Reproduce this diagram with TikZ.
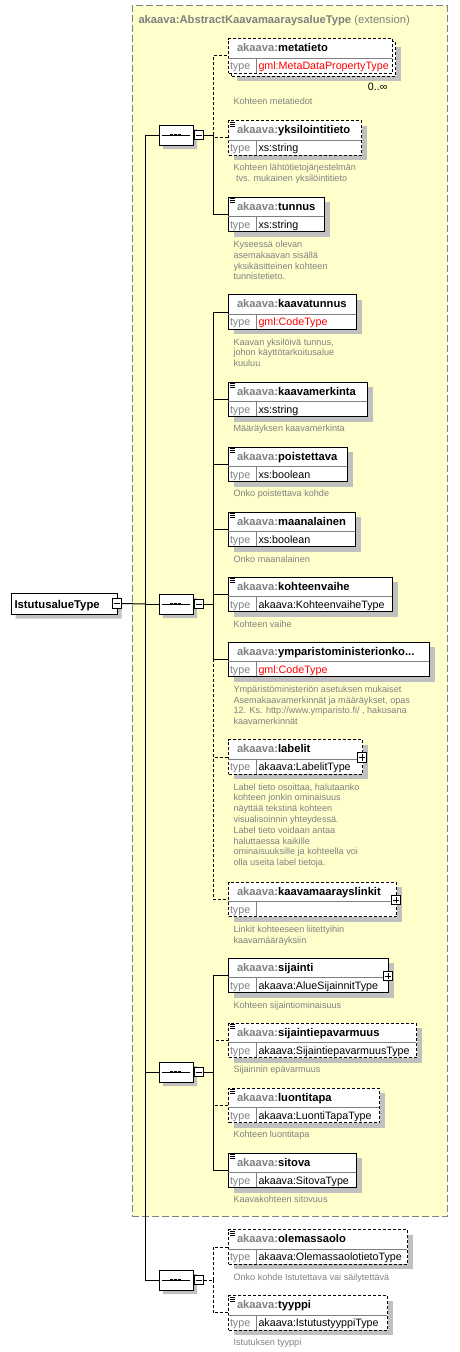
\documentclass[tikz,border=0pt]{standalone}
\usepackage{fontspec}
\setmainfont{Liberation Sans}
\usetikzlibrary{shapes.misc,shadows}

\definecolor{extfill}{HTML}{FFFFCC}
\definecolor{extline}{HTML}{808080}
\definecolor{shade}{HTML}{C0C0C0}
\definecolor{nsgray}{HTML}{808080}
\definecolor{docgray}{HTML}{808080}
\definecolor{gmlred}{HTML}{FF0000}

\tikzset{
  elframe/.style={draw,fill=white,inner sep=0pt,minimum height=34.5pt},
  elbox/.style={elframe,drop shadow={shadow xshift=5pt,shadow yshift=-5pt,fill=shade,opacity=1}},
  req/.style={elbox},
  opt/.style={elbox,dash pattern=on 3pt off 2pt},
  optmany/.style={elframe,dash pattern=on 3pt off 2pt},
  optline/.style={dash pattern=on 3pt off 2pt},
  rowline/.style={draw=nsgray,line width=0.8pt},
  ename/.style={anchor=base west,inner sep=0pt,font=\fontsize{11.2}{13}\selectfont\bfseries},
  etype/.style={anchor=base west,inner sep=0pt,font=\fontsize{10.7}{12}\selectfont},
  edoc/.style={anchor=base west,inner sep=0pt,text=docgray,font=\fontsize{9.1}{11}\selectfont},
  toggle/.style={draw,fill=white,line width=0.8pt,minimum size=9.5pt,inner sep=0pt},
  seqbox/.style={chamfered rectangle,chamfered rectangle xsep=5pt,draw,fill=white,
    minimum width=34pt,minimum height=20pt,inner sep=0pt,
    drop shadow={shadow xshift=4pt,shadow yshift=-4pt,fill=shade,opacity=1}},
  rootbox/.style={chamfered rectangle,chamfered rectangle xsep=4pt,
    chamfered rectangle corners={north west,south west},draw,fill=white,
    minimum width=106pt,minimum height=21pt,inner sep=0pt,
    drop shadow={shadow xshift=4pt,shadow yshift=-4pt,fill=shade,opacity=1}},
  extbox/.style={draw=extline,fill=extfill,line width=1.2pt,dash pattern=on 7pt off 3pt,inner sep=0pt}
}

% element box: id, top, right edge, local name, type, style
\newcommand{\elem}[6]{%
  \node[#6,minimum width=#3-228,anchor=north west] (#1) at (228,#2) {};
  \draw[rowline] (228,#2+20) -- (#3,#2+20) (256,#2+20) -- (256,#2+34.5);
  \node[ename] (#1-name) at (236.5,#2+13.5) {\textcolor{nsgray}{akaava:}#4};
  \node[etype,text=nsgray] (#1-tl) at (229.5,#2+31.5) {type};
  \node[etype] (#1-ty) at (258,#2+31.5) {#5};
}
\newcommand{\docmark}[1]{%
  \foreach \k in {2,4,6}
    \draw[line width=0.8pt] (229.5,#1+\k) -- (234.5,#1+\k);
}
\newcommand{\edesc}[3]{%
  \foreach \ln [count=\i from 0] in {#3}
    \node[edoc] (#1-doc\i) at (233,#2+10.8*\i) {\ln};
}
\newcommand{\minusbox}[3]{%
  \node[toggle] (#1) at (#2,#3) {};
  \draw[line width=0.8pt] ([xshift=2pt]#1.west) -- ([xshift=-2pt]#1.east);
}
\newcommand{\plusbox}[3]{%
  \minusbox{#1}{#2}{#3}
  \draw[line width=0.8pt] ([yshift=-2pt]#1.north) -- ([yshift=2pt]#1.south);
}
\newcommand{\seqnode}[2]{%
  \node[seqbox] (#1) at (176,#2) {};
  \draw (162,#2) -- (190,#2);
  \foreach \dx in {171.5,175.5,179.5}
    \fill (\dx-1.3,#2-1.3) rectangle (\dx+1.3,#2+1.3);
  \minusbox{#1-m}{199}{#2}
}

\begin{document}
\begin{tikzpicture}[x=1pt,y=-1pt,line width=1pt]
  \useasboundingbox (0,0) rectangle (460,1352);

  % extension frame
  \node[extbox,minimum width=315pt,minimum height=1211pt,anchor=north west] (ext) at (131.5,5) {};
  \node[anchor=base west,inner sep=0pt,text=nsgray,font=\fontsize{11.2}{13}\selectfont] (ext-title)
    at (138,23) {\textbf{akaava:AbstractKaavamaaraysalueType} (extension)};

  % root
  \node[rootbox,anchor=west] (root) at (11,604) {};
  \node[anchor=base west,inner sep=0pt,font=\fontsize{11.3}{13}\selectfont\bfseries] (root-name)
    at (14,608) {IstutusalueType};
  \minusbox{root-m}{117}{603.5}

  % sequences
  \seqnode{seqA}{135}
  \seqnode{seqB}{604}
  \seqnode{seqC}{1072}
  \seqnode{seqD}{1280}

  % elements
  \node[opt,minimum width=164,anchor=north west] (meta-back) at (231,41) {};
  \elem{meta}{38}{392}{metatieto}{\textcolor{gmlred}{gml:MetaDataPropertyType}}{optmany}
  \node[etype,anchor=base east] (meta-occ) at (388,90.8) {0..∞};
  \elem{ident}{120}{361}{yksilointitieto}{xs:string}{opt}
  \elem{tunnus}{196.7}{324}{tunnus}{xs:string}{req}
  \elem{kaavatunnus}{294.3}{356}{kaavatunnus}{\textcolor{gmlred}{gml:CodeType}}{req}
  \elem{merkinta}{381.7}{367}{kaavamerkinta}{xs:string}{req}
  \elem{poist}{446.7}{347}{poistettava}{xs:boolean}{req}
  \elem{maanal}{511.7}{355}{maanalainen}{xs:boolean}{req}
  \elem{vaihe}{576.7}{392}{kohteenvaihe}{akaava:KohteenvaiheType}{req}
  \elem{ymkoodi}{641.7}{429}{ymparistoministerionko...}{\textcolor{gmlred}{gml:CodeType}}{req}
  \elem{labelit}{739.3}{362}{labelit}{akaava:LabelitType}{opt}
  \elem{linkit}{881.7}{396}{kaavamaarayslinkit}{}{opt}
  \elem{sijainti}{957.7}{388}{sijainti}{akaava:AlueSijainnitType}{req}
  \elem{epavarm}{1022.7}{416}{sijaintiepavarmuus}{akaava:SijaintiepavarmuusType}{opt}
  \elem{luonti}{1087.7}{379}{luontitapa}{akaava:LuontiTapaType}{opt}
  \elem{sitova}{1152.7}{356}{sitova}{akaava:SitovaType}{req}
  \elem{olemassa}{1229.3}{407}{olemassaolo}{akaava:OlemassaolotietoType}{opt}
  \elem{tyyppi}{1295}{387}{tyyppi}{akaava:IstutustyyppiType}{opt}

  \foreach \tp in {120,196.7,381.7,446.7,511.7,576.7,1022.7,1087.7,1152.7,1229.3,1295}
    {\docmark{\tp}}
  \plusbox{labelit-p}{362}{757.6}
  \plusbox{linkit-p}{396}{900}
  \plusbox{sijainti-p}{388}{976}

  % annotations
  \edesc{meta}{104.3}{{Kohteen metatiedot}}
  \edesc{ident}{170.7}{{Kohteen lähtötietojärjestelmän},{\ tvs. mukainen yksilöintitieto}}
  \edesc{tunnus}{247.4}{{Kyseessä olevan},{asemakaavan sisällä},{yksikäsitteinen kohteen},{tunnistetieto.}}
  \edesc{kaavatunnus}{345}{{Kaavan yksilöivä tunnus,},{johon käyttötarkoitusalue},{kuuluu}}
  \edesc{merkinta}{431.8}{{Määräyksen kaavamerkinta}}
  \edesc{poist}{496.6}{{Onko poistettava kohde}}
  \edesc{maanal}{562.3}{{Onko maanalainen}}
  \edesc{vaihe}{627.3}{{Kohteen vaihe}}
  \edesc{ymkoodi}{692.3}{{Ympäristöministeriön asetuksen mukaiset},{Asemakaavamerkinnät ja määräykset, opas},{12. Ks. http://www.ymparisto.fi/ , hakusana},{kaavamerkinnät}}
  \edesc{labelit}{790}{{Label tieto osoittaa, halutaanko},{kohteen jonkin ominaisuus},{näyttää tekstinä kohteen},{visualisoinnin yhteydessä.},{Label tieto voidaan antaa},{haluttaessa kaikille},{ominaisuuksille ja kohteella voi},{olla useita label tietoja.}}
  \edesc{linkit}{932.3}{{Linkit kohteeseen liitettyihin},{kaavamääräyksiin}}
  \edesc{sijainti}{1008.3}{{Kohteen sijaintiominaisuus}}
  \edesc{epavarm}{1072.6}{{Sijainnin epävarmuus}}
  \edesc{luonti}{1137.6}{{Kohteen luontitapa}}
  \edesc{sitova}{1202.6}{{Kaavakohteen sitovuus}}
  \edesc{olemassa}{1280}{{Onko kohde Istutettava vai säilytettävä}}
  \edesc{tyyppi}{1345}{{Istutuksen tyyppi}}

  % connectors
  \coordinate (trunk) at (145,604);
  \draw (root-m.east) -- (trunk);
  \foreach \s in {seqA,seqB,seqC,seqD}
    \draw (trunk) |- (\s.west);

  \coordinate (jA) at (213,135);
  \draw (seqA-m.east) -- (jA) |- (tunnus.west);
  \foreach \e in {meta,ident}
    \draw[optline] (jA) |- (\e.west);

  \coordinate (jB) at (213,604);
  \draw (seqB-m.east) -- (jB);
  \foreach \e in {kaavatunnus,merkinta,poist,maanal,vaihe,ymkoodi}
    \draw (jB) |- (\e.west);
  \foreach \e in {labelit,linkit}
    \draw[optline] (jB) |- (\e.west);

  \coordinate (jC) at (213,1072);
  \draw (seqC-m.east) -- (jC);
  \foreach \e in {sijainti,sitova}
    \draw (jC) |- (\e.west);
  \foreach \e in {epavarm,luonti}
    \draw[optline] (jC) |- (\e.west);

  \coordinate (jD) at (213,1280);
  \draw[optline] (seqD-m.east) -- (jD);
  \foreach \e in {olemassa,tyyppi}
    \draw[optline] (jD) |- (\e.west);
\end{tikzpicture}
\end{document}
